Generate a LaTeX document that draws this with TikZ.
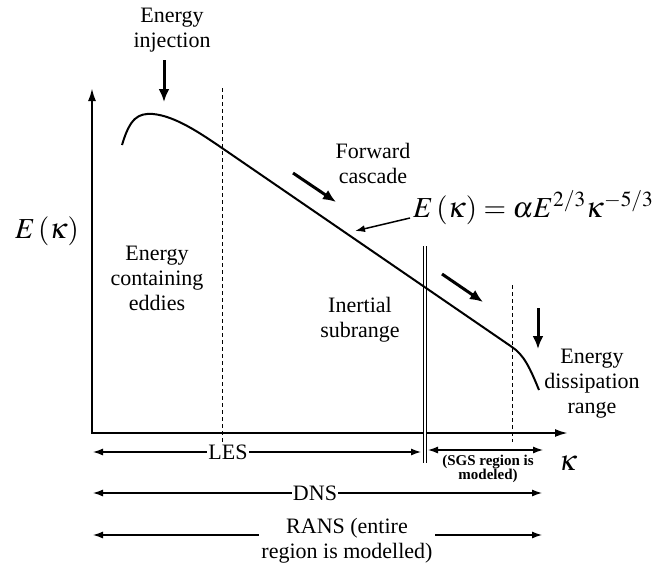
\documentclass[tikz,border=0pt]{standalone}
\usepackage{mathptmx}
\usepackage{fontspec}
\setmainfont{Liberation Serif}
\usetikzlibrary{arrows.meta}

\begin{document}
\begin{tikzpicture}[
    x=1pt, y=-1pt,
    label/.style={
        font=\fontsize{22}{25}\selectfont,
        align=center,
        inner sep=1pt
    },
    mathlabel/.style={font=\fontsize{29}{34}\selectfont, inner sep=0pt},
    axis/.style={line width=2.2pt, {Latex[length=13pt,width=8pt]}-{Latex[length=13pt,width=8pt]}},
    spectrum/.style={line width=2pt, line join=round},
    border/.style={line width=1pt, dashed, dash pattern=on 4pt off 3pt},
    dimline/.style={line width=1.2pt, {Latex[length=10pt,width=7pt]}-{Latex[length=10pt,width=7pt]}},
    push/.style={line width=3pt, -{Latex[length=13pt,width=11pt]}},
    pointer/.style={line width=1.5pt, -{Latex[length=10pt,width=7pt]}}
]
\useasboundingbox (0,0) rectangle (653,565);

% Axes
\draw[axis] (92,88) |- (568,433);
\node[mathlabel] (ylab) at (47,231) {$E\,(\kappa)$};
\node[mathlabel] (xlab) at (568,463) {$\kappa$};

% Region borders
\draw[border] (222,88) -- (222,445);
\draw[border] (512,285) -- (512,442);
\draw[line width=1.2pt, double, double distance=2pt] (425,246) -- (425,463);

% Spectrum
\draw[spectrum] (122,145) .. controls (130,118) and (138,113) .. (153,114)
    .. controls (175,116) and (200,133) .. (222,148) -- (512,347)
    .. controls (524,355) and (530,368) .. (539,390);

% Labels
\node[label] (inject) at (172,30) {Energy\\injection};
\node[label] (eddies) at (157,278) {Energy\\containing\\eddies};
\node[label] (cascade) at (373,163) {Forward\\cascade};
\node[label] (inertial) at (360,320) {Inertial\\subrange};
\node[label] (dissip) at (592,384) {Energy\\dissipation\\range};
\node[mathlabel, anchor=base west] (law) at (413,217) {$E\,(\kappa) = \alpha E^{2/3}\kappa^{-5/3}$};

% Pointers
\coordinate (inj-a) at (164,60);
\coordinate (inj-b) at (164,102);
\coordinate (cas1-a) at (293,173);
\coordinate (cas1-b) at (336,202);
\coordinate (cas2-a) at (442,274);
\coordinate (cas2-b) at (483,302);
\coordinate (dis-a) at (538,308);
\coordinate (dis-b) at (538,349);
\coordinate (law-a) at (410,218);
\coordinate (law-b) at (355,231);
\draw[push] (inj-a) -- (inj-b);
\draw[push] (cas1-a) -- (cas1-b);
\draw[push] (cas2-a) -- (cas2-b);
\draw[push] (dis-a) -- (dis-b);
\draw[pointer] (law-a) -- (law-b);

% Resolved ranges
\coordinate (les-l) at (93,452);
\coordinate (les-r) at (421,452);
\coordinate (sgs-l) at (428,450);
\coordinate (sgs-r) at (543,450);
\coordinate (dns-l) at (93,493);
\coordinate (dns-r) at (542,493);
\coordinate (rans-l) at (93,535);
\coordinate (rans-r) at (542,535);

\draw[dimline] (les-l) -- (les-r);
\node[label, fill=white] (les) at (228,452) {LES};
\draw[dimline] (sgs-l) -- (sgs-r);
\node[font=\fontsize{15}{12}\selectfont\bfseries, align=center, inner sep=0pt] (sgs) at (488,469) {(SGS region is\\modeled)};
\draw[dimline] (dns-l) -- (dns-r);
\node[label, fill=white] (dns) at (315,493) {DNS};
\draw[dimline] (rans-l) -- (rans-r);
\node[label, fill=white, inner xsep=2pt] (rans) at (347,541) {RANS (entire\\region is modelled)};

\end{tikzpicture}
\end{document}
